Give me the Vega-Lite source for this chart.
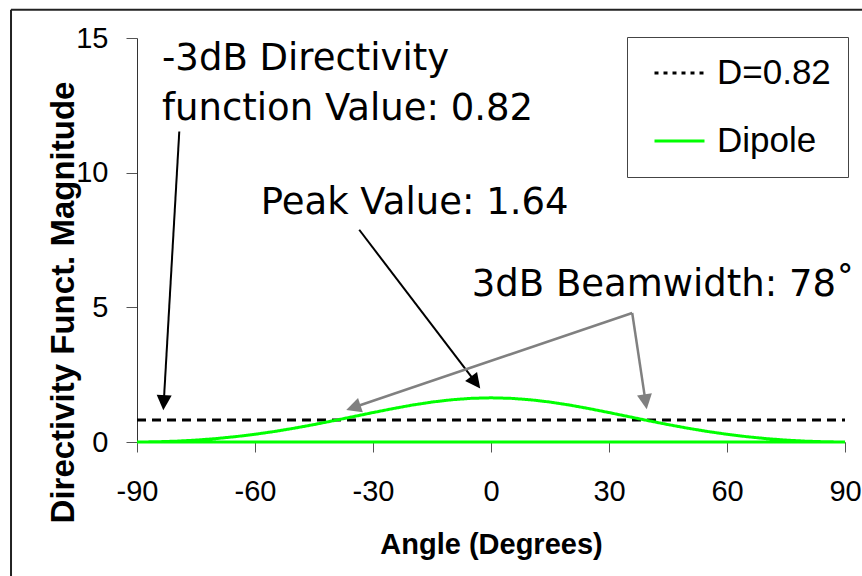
{
  "$schema": "https://vega.github.io/schema/vega-lite/v6.json",
  "width": 708,
  "height": 404,
  "autosize": {"type": "none"},
  "padding": {"left": 137, "top": 38, "right": 17, "bottom": 134},
  "background": "white",
  "config": {"view": {"stroke": null}, "font": "Liberation Sans"},
  "datasets": {
    "curves": [
      {"series": "D=0.82", "i": 0, "angle": -90, "value": 0.82},
      {"series": "D=0.82", "i": 1, "angle": 90, "value": 0.82},
      {"series": "Dipole", "i": 0, "angle": -90, "value": 0},
      {"series": "Dipole", "i": 1, "angle": -85, "value": 0.008},
      {"series": "Dipole", "i": 2, "angle": -80, "value": 0.031},
      {"series": "Dipole", "i": 3, "angle": -75, "value": 0.07},
      {"series": "Dipole", "i": 4, "angle": -70, "value": 0.125},
      {"series": "Dipole", "i": 5, "angle": -65, "value": 0.198},
      {"series": "Dipole", "i": 6, "angle": -60, "value": 0.286},
      {"series": "Dipole", "i": 7, "angle": -55, "value": 0.392},
      {"series": "Dipole", "i": 8, "angle": -50, "value": 0.513},
      {"series": "Dipole", "i": 9, "angle": -45, "value": 0.647},
      {"series": "Dipole", "i": 10, "angle": -40, "value": 0.792},
      {"series": "Dipole", "i": 11, "angle": -35, "value": 0.942},
      {"series": "Dipole", "i": 12, "angle": -30, "value": 1.093},
      {"series": "Dipole", "i": 13, "angle": -25, "value": 1.238},
      {"series": "Dipole", "i": 14, "angle": -20, "value": 1.371},
      {"series": "Dipole", "i": 15, "angle": -15, "value": 1.483},
      {"series": "Dipole", "i": 16, "angle": -10, "value": 1.568},
      {"series": "Dipole", "i": 17, "angle": -5, "value": 1.622},
      {"series": "Dipole", "i": 18, "angle": 0, "value": 1.64},
      {"series": "Dipole", "i": 19, "angle": 5, "value": 1.622},
      {"series": "Dipole", "i": 20, "angle": 10, "value": 1.568},
      {"series": "Dipole", "i": 21, "angle": 15, "value": 1.483},
      {"series": "Dipole", "i": 22, "angle": 20, "value": 1.371},
      {"series": "Dipole", "i": 23, "angle": 25, "value": 1.238},
      {"series": "Dipole", "i": 24, "angle": 30, "value": 1.093},
      {"series": "Dipole", "i": 25, "angle": 35, "value": 0.942},
      {"series": "Dipole", "i": 26, "angle": 40, "value": 0.792},
      {"series": "Dipole", "i": 27, "angle": 45, "value": 0.647},
      {"series": "Dipole", "i": 28, "angle": 50, "value": 0.513},
      {"series": "Dipole", "i": 29, "angle": 55, "value": 0.392},
      {"series": "Dipole", "i": 30, "angle": 60, "value": 0.286},
      {"series": "Dipole", "i": 31, "angle": 65, "value": 0.198},
      {"series": "Dipole", "i": 32, "angle": 70, "value": 0.125},
      {"series": "Dipole", "i": 33, "angle": 75, "value": 0.07},
      {"series": "Dipole", "i": 34, "angle": 80, "value": 0.031},
      {"series": "Dipole", "i": 35, "angle": 85, "value": 0.008},
      {"series": "Dipole", "i": 36, "angle": 90, "value": 0},
      {"series": "Dipole", "i": 37, "angle": -90, "value": 0}
    ],
    "arrows": [
      {"group": "label", "x": -79.25, "y": 11.53, "x2": -83.2, "y2": 1.46, "heading": 183.3},
      {"group": "label", "x": -33.5, "y": 7.88, "x2": -3.9, "y2": 2.21, "heading": 142.7},
      {"group": "beam", "x": 35.9, "y": 4.79, "x2": -35.0, "y2": 1.28, "heading": 251.3},
      {"group": "beam", "x": 35.9, "y": 4.79, "x2": 39.3, "y2": 1.49, "heading": 171.4}
    ],
    "notes": [
      {"text": "-3dB Directivity", "x": -83.64, "y": 13.82},
      {"text": "function Value: 0.82", "x": -83.64, "y": 11.97},
      {"text": "Peak Value: 1.64", "x": -58.55, "y": 8.47},
      {"text": "3dB Beamwidth: 78˚", "x": -4.9, "y": 5.41}
    ],
    "frame": [
      {"x": -122.03, "y": -5.2, "x2": -122.03, "y2": 16.05},
      {"x": -122.03, "y": 16.05, "x2": 96, "y2": 16.05}
    ]
  },
  "layer": [
    {
      "data": {"name": "curves"},
      "mark": {"type": "line", "strokeWidth": 3},
      "encoding": {
        "x": {
          "field": "angle", "type": "quantitative",
          "scale": {"domain": [-90, 90], "nice": false, "zero": false},
          "axis": {
            "values": [-90, -60, -30, 0, 30, 60, 90],
            "labelExpr": "datum.value + ''",
            "grid": false,
            "title": "Angle (Degrees)",
            "titleFont": "Liberation Sans", "titleFontSize": 29, "titleFontWeight": "bold", "titleColor": "#000",
            "titleY": 111, "titleBaseline": "alphabetic",
            "labelFont": "Liberation Sans", "labelFontSize": 29, "labelColor": "#000",
            "labelPadding": 25, "tickSize": 10, "tickColor": "#555", "domainColor": "#555",
            "labelFlush": false, "labelOverlap": false
          }
        },
        "y": {
          "field": "value", "type": "quantitative",
          "scale": {"domain": [0, 15], "nice": false},
          "axis": {
            "values": [0, 5, 10, 15],
            "grid": false,
            "title": "Directivity Funct. Magnitude",
            "titleFont": "Liberation Sans", "titleFontSize": 33, "titleFontWeight": "bold", "titleColor": "#000",
            "titleX": -64, "titleY": 264, "titleAngle": -90, "titleAlign": "center", "titleBaseline": "alphabetic",
            "labelFont": "Liberation Sans", "labelFontSize": 29, "labelColor": "#000",
            "labelPadding": 18, "tickSize": 11, "tickColor": "#555", "domainColor": "#333",
            "labelFlush": false, "labelOverlap": false
          }
        },
        "order": {"field": "i", "type": "quantitative"},
        "color": {
          "field": "series", "type": "nominal",
          "scale": {"domain": ["D=0.82", "Dipole"], "range": ["#000000", "#00ff00"]},
          "legend": {
            "title": null, "orient": "none", "legendX": 490, "legendY": -1,
            "symbolType": "stroke", "symbolSize": 2500, "symbolStrokeWidth": 3, "symbolOffset": 9,
            "labelFont": "Liberation Sans", "labelFontSize": 35, "labelColor": "#000", "labelOffset": 11,
            "clipHeight": 38, "rowPadding": 30, "padding": 17, "strokeColor": "#444", "fillColor": "white",
            "encode": {"symbols": {"update": {"strokeDash": {"signal": "datum.value === 'D=0.82' ? [4, 5] : [1, 0]"}}}}
          }
        },
        "strokeDash": {
          "field": "series", "type": "nominal",
          "scale": {"domain": ["D=0.82", "Dipole"], "range": [[9, 6], [1, 0]]},
          "legend": null
        }
      }
    },
    {
      "data": {"name": "arrows"},
      "transform": [{"filter": "datum.group === 'label'"}],
      "mark": {"type": "rule", "color": "#000", "strokeWidth": 2},
      "encoding": {
        "x": {"field": "x", "type": "quantitative"},
        "y": {"field": "y", "type": "quantitative"},
        "x2": {"field": "x2"},
        "y2": {"field": "y2"}
      }
    },
    {
      "data": {"name": "arrows"},
      "transform": [{"filter": "datum.group === 'beam'"}],
      "mark": {"type": "rule", "color": "#808080", "strokeWidth": 2.5},
      "encoding": {
        "x": {"field": "x", "type": "quantitative"},
        "y": {"field": "y", "type": "quantitative"},
        "x2": {"field": "x2"},
        "y2": {"field": "y2"}
      }
    },
    {
      "data": {"name": "arrows"},
      "mark": {"type": "point", "shape": "M0,-1L1,1L-1,1Z", "filled": true, "size": 225, "opacity": 1},
      "encoding": {
        "x": {"field": "x2", "type": "quantitative"},
        "y": {"field": "y2", "type": "quantitative"},
        "angle": {"field": "heading", "type": "quantitative", "scale": null},
        "color": {
          "field": "group", "type": "nominal",
          "scale": {"domain": ["label", "beam"], "range": ["#000000", "#808080"]},
          "legend": null
        }
      }
    },
    {
      "data": {"name": "notes"},
      "mark": {"type": "text", "font": "DejaVu Sans", "fontSize": 37, "align": "left", "baseline": "alphabetic", "color": "#000"},
      "encoding": {
        "x": {"field": "x", "type": "quantitative"},
        "y": {"field": "y", "type": "quantitative"},
        "text": {"field": "text"}
      }
    },
    {
      "data": {"name": "frame"},
      "mark": {"type": "rule", "color": "#222", "strokeWidth": 2, "clip": false},
      "encoding": {
        "x": {"field": "x", "type": "quantitative"},
        "y": {"field": "y", "type": "quantitative"},
        "x2": {"field": "x2"},
        "y2": {"field": "y2"}
      }
    }
  ],
  "resolve": {"scale": {"color": "independent"}}
}
